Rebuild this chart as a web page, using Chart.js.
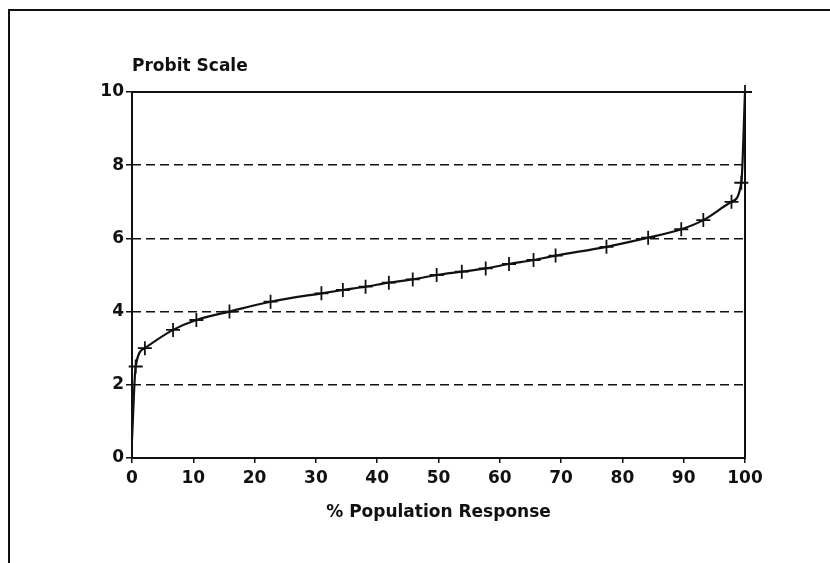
<!DOCTYPE html>
<html>
<head>
<meta charset="utf-8">
<title>Probit Scale</title>
<script src="https://cdn.jsdelivr.net/npm/chart.js@4.4.1/dist/chart.umd.min.js"></script>
<style>
  html, body { margin: 0; padding: 0; background: #fff; }
  #wrap { width: 830px; height: 563px; }
</style>
</head>
<body>
<div id="wrap"><canvas id="probit" width="830" height="563"></canvas></div>
<script>
// % population response (x) and the matching probit value (y)
const responsePct = [0, 0.6, 2.1, 6.7, 10.5, 15.9, 22.6, 30.9, 34.4, 38.1, 41.9, 45.8, 49.7,
  53.8, 57.7, 61.5, 65.5, 69.1, 77.4, 84.2, 89.6, 93.2, 97.8, 99.4, 100];
const probitValues = [0.5, 2.5, 3.0, 3.5, 3.77, 4.0, 4.27, 4.5, 4.59, 4.68, 4.79, 4.88, 5.0,
  5.09, 5.18, 5.3, 5.41, 5.53, 5.77, 6.02, 6.25, 6.5, 7.0, 7.52, 10];
const xTicks = [0, 10, 20, 30, 40, 50, 60, 70, 80, 90, 100];
const yTicks = [0, 2, 4, 6, 8, 10];

const INK = '#111';
const FONT = "'DejaVu Sans', sans-serif";

// frame of the page, the y label and the solid box round the plot
const decor = {
  id: 'decor',
  beforeDraw(chart) {
    const ctx = chart.ctx;
    ctx.save();
    ctx.fillStyle = '#fff';
    ctx.fillRect(0, 0, chart.width, chart.height);
    ctx.strokeStyle = INK;
    ctx.lineWidth = 2;
    ctx.beginPath();
    ctx.moveTo(9, chart.height);
    ctx.lineTo(9, 10);
    ctx.lineTo(chart.width, 10);
    ctx.stroke();
    ctx.fillStyle = INK;
    ctx.font = 'bold 17px ' + FONT;
    ctx.textBaseline = 'alphabetic';
    ctx.fillText('Probit Scale', chart.chartArea.left, 71);
    ctx.restore();
  },
  beforeDatasetsDraw(chart) {
    const a = chart.chartArea;
    const ctx = chart.ctx;
    ctx.save();
    ctx.strokeStyle = INK;
    ctx.lineWidth = 2;
    ctx.strokeRect(a.left, a.top, a.right - a.left, a.bottom - a.top);
    ctx.restore();
  }
};

new Chart(document.getElementById('probit'), {
  type: 'line',
  data: {
    datasets: [{
      data: responsePct.map((x, i) => ({ x, y: probitValues[i] })),
      borderColor: INK,
      borderWidth: 2.2,
      cubicInterpolationMode: 'monotone',
      clip: false,
      pointStyle: 'cross',
      pointRadius: responsePct.map((x, i) => i === 0 ? 0 : 7),
      pointBorderColor: INK,
      pointBorderWidth: 1.8,
      fill: false
    }]
  },
  options: {
    responsive: false,
    animation: false,
    devicePixelRatio: 1,
    layout: { padding: { top: 92, right: 85, bottom: 33, left: 0 } },
    plugins: { legend: { display: false }, tooltip: { enabled: false } },
    scales: {
      x: {
        type: 'linear',
        min: 0,
        max: 100,
        afterFit(s) { s.height = 72; },
        afterBuildTicks(s) { s.ticks = xTicks.map(v => ({ value: v })); },
        grid: { display: true, drawOnChartArea: false, tickLength: 5, tickColor: INK, lineWidth: 1.5 },
        border: { display: false },
        ticks: { color: INK, padding: 5, maxRotation: 0, font: { family: FONT, size: 17, weight: 'bold' } },
        title: {
          display: true,
          text: '% Population Response',
          color: INK,
          padding: { top: 4, bottom: 7 },
          font: { family: FONT, size: 17, weight: 'bold' }
        }
      },
      y: {
        type: 'linear',
        min: 0,
        max: 10,
        afterFit(s) { s.width = 132; },
        afterBuildTicks(s) { s.ticks = yTicks.map(v => ({ value: v })); },
        grid: {
          color: c => (c.tick && (c.tick.value === 0 || c.tick.value === 10)) ? 'rgba(0,0,0,0)' : INK,
          lineWidth: 1.5,
          tickLength: 6,
          tickColor: INK,
          tickBorderDash: []
        },
        border: { display: false, dash: [9, 5] },
        ticks: { color: INK, padding: 2, font: { family: FONT, size: 17, weight: 'bold' } }
      }
    }
  },
  plugins: [decor]
});
</script>
</body>
</html>
